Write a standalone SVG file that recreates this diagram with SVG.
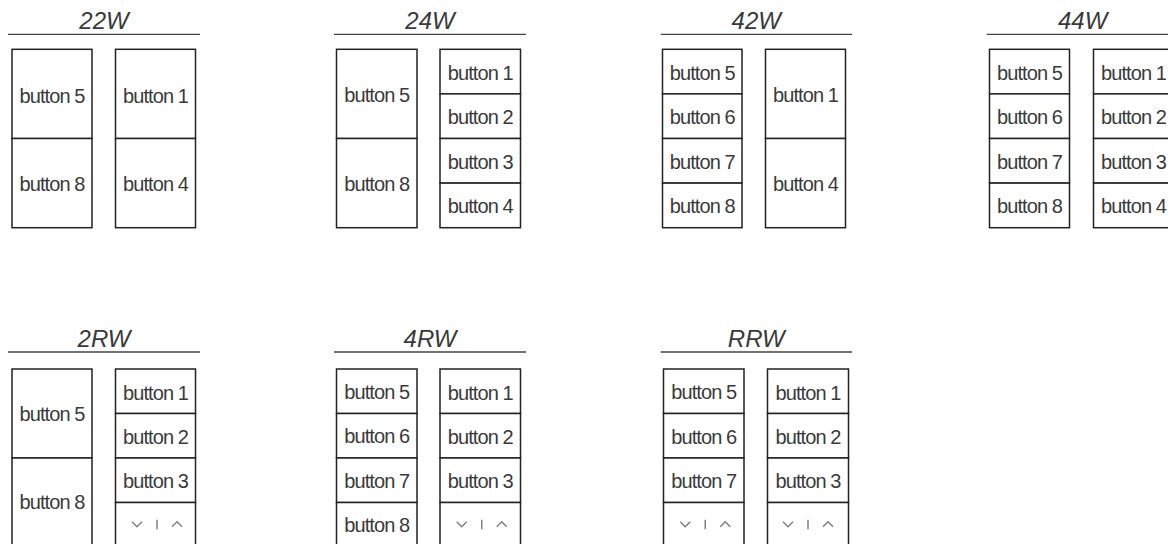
<svg xmlns="http://www.w3.org/2000/svg" xmlns:xlink="http://www.w3.org/1999/xlink" width="1168" height="544" viewBox="0 0 1168 544">
<style>
.t{font-family:"Liberation Sans",Arial,sans-serif;font-size:24px;font-style:italic;fill:#3a3a3a;text-anchor:middle}
.b{font-family:"Liberation Sans",Arial,sans-serif;font-size:20px;letter-spacing:-0.9px;fill:#3a3a3a;text-anchor:middle}
.c{fill:#fff;stroke:#222;stroke-width:1.5}
.rule{stroke:#444;stroke-width:1.3}
.ic{fill:none;stroke:#808080;stroke-width:1.5}
</style>
<defs>
<g id="updown">
<polyline class="ic" points="-23.5,-3 -18.5,2 -13.5,-3"/>
<line class="ic" x1="1.5" y1="-5" x2="1.5" y2="4.5"/>
<polyline class="ic" points="16.5,2 21.5,-3 26.5,2"/>
</g>
</defs>
<rect width="1168" height="544" fill="#fff"/>

<!-- 22W -->
<g id="p22W">
<text class="t" x="104" y="29.3">22W</text>
<line class="rule" x1="8" y1="34.3" x2="200" y2="34.3"/>
<g id="p22W-b5"><rect class="c" x="12" y="49.3" width="80" height="89.2"/><text class="b" x="52" y="102.5">button 5</text></g>
<g id="p22W-b8"><rect class="c" x="12" y="138.5" width="80" height="89.2"/><text class="b" x="52" y="191">button 8</text></g>
<g id="p22W-b1"><rect class="c" x="115.5" y="49.3" width="80" height="89.2"/><text class="b" x="155.5" y="102.5">button 1</text></g>
<g id="p22W-b4"><rect class="c" x="115.5" y="138.5" width="80" height="89.2"/><text class="b" x="155.5" y="191">button 4</text></g>
</g>

<!-- 24W -->
<g id="p24W">
<text class="t" x="430" y="29.3">24W</text>
<line class="rule" x1="334" y1="34.3" x2="526" y2="34.3"/>
<g id="p24W-b5"><rect class="c" x="336.5" y="49.3" width="80.5" height="89.2"/><text class="b" x="376.75" y="102">button 5</text></g>
<g id="p24W-b8"><rect class="c" x="336.5" y="138.5" width="80.5" height="89.2"/><text class="b" x="376.75" y="191">button 8</text></g>
<g id="p24W-b1"><rect class="c" x="440" y="49.3" width="80.5" height="44.6"/><text class="b" x="480.25" y="79.8">button 1</text></g>
<g id="p24W-b2"><rect class="c" x="440" y="93.9" width="80.5" height="44.6"/><text class="b" x="480.25" y="124.2">button 2</text></g>
<g id="p24W-b3"><rect class="c" x="440" y="138.5" width="80.5" height="44.6"/><text class="b" x="480.25" y="168.6">button 3</text></g>
<g id="p24W-b4"><rect class="c" x="440" y="183.1" width="80.5" height="44.6"/><text class="b" x="480.25" y="212.6">button 4</text></g>
</g>

<!-- 42W -->
<g id="p42W">
<text class="t" x="756.3" y="29.3">42W</text>
<line class="rule" x1="660.7" y1="34.3" x2="852" y2="34.3"/>
<g id="p42W-b5"><rect class="c" x="662.5" y="49.3" width="79.5" height="44.6"/><text class="b" x="702.25" y="79.8">button 5</text></g>
<g id="p42W-b6"><rect class="c" x="662.5" y="93.9" width="79.5" height="44.6"/><text class="b" x="702.25" y="124.2">button 6</text></g>
<g id="p42W-b7"><rect class="c" x="662.5" y="138.5" width="79.5" height="44.6"/><text class="b" x="702.25" y="168.6">button 7</text></g>
<g id="p42W-b8"><rect class="c" x="662.5" y="183.1" width="79.5" height="44.6"/><text class="b" x="702.25" y="212.6">button 8</text></g>
<g id="p42W-b1"><rect class="c" x="765.5" y="49.3" width="80" height="89.2"/><text class="b" x="805.5" y="102">button 1</text></g>
<g id="p42W-b4"><rect class="c" x="765.5" y="138.5" width="80" height="89.2"/><text class="b" x="805.5" y="191">button 4</text></g>
</g>

<!-- 44W -->
<g id="p44W">
<text class="t" x="1082.7" y="29.3">44W</text>
<line class="rule" x1="986.7" y1="34.3" x2="1178" y2="34.3"/>
<g id="p44W-b5"><rect class="c" x="989.5" y="49.3" width="80" height="44.6"/><text class="b" x="1029.5" y="79.8">button 5</text></g>
<g id="p44W-b6"><rect class="c" x="989.5" y="93.9" width="80" height="44.6"/><text class="b" x="1029.5" y="124.2">button 6</text></g>
<g id="p44W-b7"><rect class="c" x="989.5" y="138.5" width="80" height="44.6"/><text class="b" x="1029.5" y="168.6">button 7</text></g>
<g id="p44W-b8"><rect class="c" x="989.5" y="183.1" width="80" height="44.6"/><text class="b" x="1029.5" y="212.6">button 8</text></g>
<g id="p44W-b1"><rect class="c" x="1093.5" y="49.3" width="80" height="44.6"/><text class="b" x="1133.5" y="79.8">button 1</text></g>
<g id="p44W-b2"><rect class="c" x="1093.5" y="93.9" width="80" height="44.6"/><text class="b" x="1133.5" y="124.2">button 2</text></g>
<g id="p44W-b3"><rect class="c" x="1093.5" y="138.5" width="80" height="44.6"/><text class="b" x="1133.5" y="168.6">button 3</text></g>
<g id="p44W-b4"><rect class="c" x="1093.5" y="183.1" width="80" height="44.6"/><text class="b" x="1133.5" y="212.6">button 4</text></g>
</g>

<!-- 2RW -->
<g id="p2RW">
<text class="t" x="104" y="346.7">2RW</text>
<line class="rule" x1="8" y1="352" x2="200" y2="352"/>
<g id="p2RW-b5"><rect class="c" x="12" y="369" width="80" height="89"/><text class="b" x="52" y="420.5">button 5</text></g>
<g id="p2RW-b8"><rect class="c" x="12" y="458" width="80" height="89"/><text class="b" x="52" y="508.5">button 8</text></g>
<g id="p2RW-b1"><rect class="c" x="115.5" y="369" width="80" height="44.5"/><text class="b" x="155.5" y="399.5">button 1</text></g>
<g id="p2RW-b2"><rect class="c" x="115.5" y="413.5" width="80" height="44.5"/><text class="b" x="155.5" y="443.8">button 2</text></g>
<g id="p2RW-b3"><rect class="c" x="115.5" y="458" width="80" height="44.5"/><text class="b" x="155.5" y="488">button 3</text></g>
<g id="p2RW-rocker"><rect class="c" x="115.5" y="502.5" width="80" height="44.5"/><use xlink:href="#updown" href="#updown" x="155.5" y="524.75"/></g>
</g>

<!-- 4RW -->
<g id="p4RW">
<text class="t" x="430" y="346.7">4RW</text>
<line class="rule" x1="334" y1="352" x2="526" y2="352"/>
<g id="p4RW-b5"><rect class="c" x="336.5" y="369" width="80.5" height="44.5"/><text class="b" x="376.75" y="398.5">button 5</text></g>
<g id="p4RW-b6"><rect class="c" x="336.5" y="413.5" width="80.5" height="44.5"/><text class="b" x="376.75" y="443">button 6</text></g>
<g id="p4RW-b7"><rect class="c" x="336.5" y="458" width="80.5" height="44.5"/><text class="b" x="376.75" y="487.5">button 7</text></g>
<g id="p4RW-b8"><rect class="c" x="336.5" y="502.5" width="80.5" height="44.5"/><text class="b" x="376.75" y="531.5">button 8</text></g>
<g id="p4RW-b1"><rect class="c" x="440" y="369" width="80.5" height="44.5"/><text class="b" x="480.25" y="399.5">button 1</text></g>
<g id="p4RW-b2"><rect class="c" x="440" y="413.5" width="80.5" height="44.5"/><text class="b" x="480.25" y="443.8">button 2</text></g>
<g id="p4RW-b3"><rect class="c" x="440" y="458" width="80.5" height="44.5"/><text class="b" x="480.25" y="488">button 3</text></g>
<g id="p4RW-rocker"><rect class="c" x="440" y="502.5" width="80.5" height="44.5"/><use xlink:href="#updown" href="#updown" x="480.25" y="524.75"/></g>
</g>

<!-- RRW -->
<g id="pRRW">
<text class="t" x="756.3" y="346.7">RRW</text>
<line class="rule" x1="660.7" y1="352" x2="852" y2="352"/>
<g id="pRRW-b5"><rect class="c" x="663.5" y="369" width="80.5" height="44.5"/><text class="b" x="703.75" y="399">button 5</text></g>
<g id="pRRW-b6"><rect class="c" x="663.5" y="413.5" width="80.5" height="44.5"/><text class="b" x="703.75" y="443.5">button 6</text></g>
<g id="pRRW-b7"><rect class="c" x="663.5" y="458" width="80.5" height="44.5"/><text class="b" x="703.75" y="488">button 7</text></g>
<g id="pRRW-rocker1"><rect class="c" x="663.5" y="502.5" width="80.5" height="44.5"/><use xlink:href="#updown" href="#updown" x="703.75" y="524.75"/></g>
<g id="pRRW-b1"><rect class="c" x="767.5" y="369" width="81" height="44.5"/><text class="b" x="808" y="399.5">button 1</text></g>
<g id="pRRW-b2"><rect class="c" x="767.5" y="413.5" width="81" height="44.5"/><text class="b" x="808" y="443.8">button 2</text></g>
<g id="pRRW-b3"><rect class="c" x="767.5" y="458" width="81" height="44.5"/><text class="b" x="808" y="488">button 3</text></g>
<g id="pRRW-rocker2"><rect class="c" x="767.5" y="502.5" width="81" height="44.5"/><use xlink:href="#updown" href="#updown" x="806.5" y="524.75"/></g>
</g>

<g id="connectors"/>
</svg>
